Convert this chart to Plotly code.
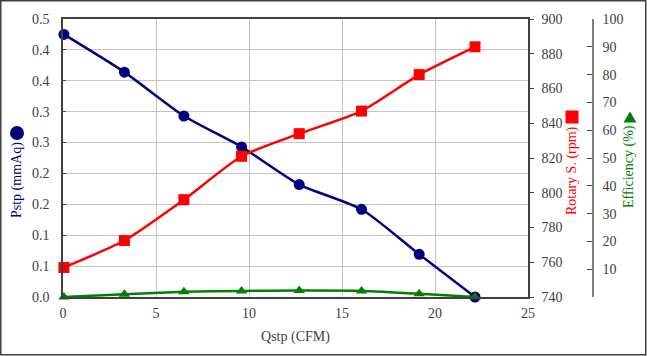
import plotly.graph_objects as go

# ---- data ----
qstp_cfm = [0.05, 3.3, 6.5, 9.6, 12.7, 16.05, 19.15, 22.15]
pstp_mmaq = [0.425, 0.364, 0.293, 0.243, 0.182, 0.142, 0.069, 0.0]
rotary_rpm = [757, 772.5, 796, 821, 834, 847, 868, 884]
efficiency_pct = [0.0, 1.0, 1.9, 2.2, 2.3, 2.2, 1.2, 0.0]

x_ticks = [0, 5, 10, 15, 20, 25]
left_ticks = [0, 0.05, 0.10, 0.15, 0.20, 0.25, 0.30, 0.35, 0.40, 0.45]
left_labels = ["0.0", "0.1", "0.1", "0.2", "0.2", "0.3", "0.3", "0.4", "0.4", "0.5"]
rpm_ticks = [740, 760, 780, 800, 820, 840, 860, 880, 900]
eff_ticks = [0, 10, 20, 30, 40, 50, 60, 70, 80, 90, 100]
eff_labels = ["", "10", "20", "30", "40", "50", "60", "70", "80", "90", "100"]

NAVY = "#000080"
RED = "#FF0000"
GREEN = "#008000"
AX = "#404040"
GRID = "#c4c4c4"
FONT = "Liberation Serif, Times New Roman, serif"

W, H = 647, 356
ML, MR, MT, MB = 63, 54, 19, 59
PW = W - ML - MR
PH = H - MT - MB
XDOM = (528 - ML) / PW

fig = go.Figure()
fig.add_trace(go.Scatter(
    x=qstp_cfm, y=pstp_mmaq, mode="lines+markers", yaxis="y",
    line=dict(color=NAVY, width=2.5, shape="spline", smoothing=0.6),
    marker=dict(symbol="circle", size=11, color=NAVY),
    cliponaxis=False, showlegend=False))
fig.add_trace(go.Scatter(
    x=qstp_cfm, y=rotary_rpm, mode="lines+markers", yaxis="y2",
    line=dict(color=RED, width=2.5, shape="spline", smoothing=0.6),
    marker=dict(symbol="square", size=11, color=RED),
    cliponaxis=False, showlegend=False))
fig.add_trace(go.Scatter(
    x=qstp_cfm, y=efficiency_pct, mode="lines+markers", yaxis="y3",
    line=dict(color=GREEN, width=2.5, shape="spline", smoothing=0.6),
    marker=dict(symbol="triangle-up", size=10, color=GREEN),
    cliponaxis=False, showlegend=False))

tickfont = dict(family=FONT, size=14, color=AX)

fig.update_layout(
    width=W, height=H,
    margin=dict(l=ML, r=MR, t=MT, b=MB, pad=0),
    paper_bgcolor="white", plot_bgcolor="white",
    font=dict(family=FONT, size=14, color=AX),
    xaxis=dict(
        domain=[0, XDOM], range=[0, 25], tickvals=x_ticks,
        showgrid=True, gridcolor=GRID, gridwidth=1,
        showline=True, linecolor=AX, linewidth=1.5, mirror=True,
        ticks="", zeroline=False, tickfont=tickfont, ticklabelstandoff=2,
        title=dict(text="Qstp (CFM)", font=dict(family=FONT, size=14, color=AX), standoff=12),
    ),
    yaxis=dict(
        range=[0, 0.45], tickvals=left_ticks, ticktext=left_labels,
        showgrid=True, gridcolor=GRID, gridwidth=1,
        showline=True, linecolor=AX, linewidth=1.5, mirror=True,
        ticks="inside", ticklen=3, tickcolor=AX,
        zeroline=False, tickfont=tickfont, ticklabelstandoff=9,
    ),
    yaxis2=dict(
        overlaying="y", side="right", anchor="x",
        range=[740, 900], tickvals=rpm_ticks,
        showgrid=False, zeroline=False,
        showline=True, linecolor=AX, linewidth=1.5,
        ticks="outside", ticklen=4, tickcolor=AX, tickfont=tickfont,
        ticklabelstandoff=5,
    ),
    yaxis3=dict(
        overlaying="y", side="right", anchor="free", position=1,
        range=[0, 100], tickvals=eff_ticks, ticktext=eff_labels,
        showgrid=False, zeroline=False,
        showline=True, linecolor="#808080", linewidth=1.5,
        ticks="inside", ticklen=5, tickcolor=AX, tickfont=tickfont,
        ticklabelstandoff=6,
    ),
)

def px_x(px):
    return (px - ML) / PW

def px_y(py):
    return (H - MB - py) / PH

annos = [
    ("Pstp (mmAq)", NAVY, 17, 180),
    ("Rotary S. (rpm)", RED, 572, 171),
    ("Efficiency (%)", GREEN, 629, 167),
]
for text, col, ax_px, ay_px in annos:
    fig.add_annotation(
        text=text, xref="paper", yref="paper",
        x=px_x(ax_px), y=px_y(ay_px), xanchor="center", yanchor="middle",
        textangle=-90, showarrow=False,
        font=dict(family=FONT, size=14, color=col))

# title symbols (pixel-sized shapes)
fig.add_shape(type="circle", xref="paper", yref="paper",
              xsizemode="pixel", ysizemode="pixel",
              xanchor=px_x(17), yanchor=px_y(133),
              x0=-7, x1=7, y0=-7, y1=7,
              fillcolor=NAVY, line=dict(width=0))
fig.add_shape(type="rect", xref="paper", yref="paper",
              xsizemode="pixel", ysizemode="pixel",
              xanchor=px_x(572), yanchor=px_y(117),
              x0=-6.5, x1=6.5, y0=-6.5, y1=6.5,
              fillcolor=RED, line=dict(width=0))
fig.add_shape(type="path", xref="paper", yref="paper",
              xsizemode="pixel", ysizemode="pixel",
              xanchor=px_x(630), yanchor=px_y(117),
              path="M -6.5 -5.5 L 6.5 -5.5 L 0 5.5 Z",
              fillcolor=GREEN, line=dict(width=0))

# outer frame
fig.add_shape(
    type="rect", xref="paper", yref="paper",
    x0=px_x(0.75), x1=px_x(W - 1.25), y0=px_y(H - 1.25), y1=px_y(0.75),
    line=dict(color="#404040", width=1.5), fillcolor="rgba(0,0,0,0)", layer="above")

fig.write_html(
    "out.html",
    config={"displayModeBar": False},
    post_script="document.body.style.margin='0';document.body.style.overflow='hidden';",
)
